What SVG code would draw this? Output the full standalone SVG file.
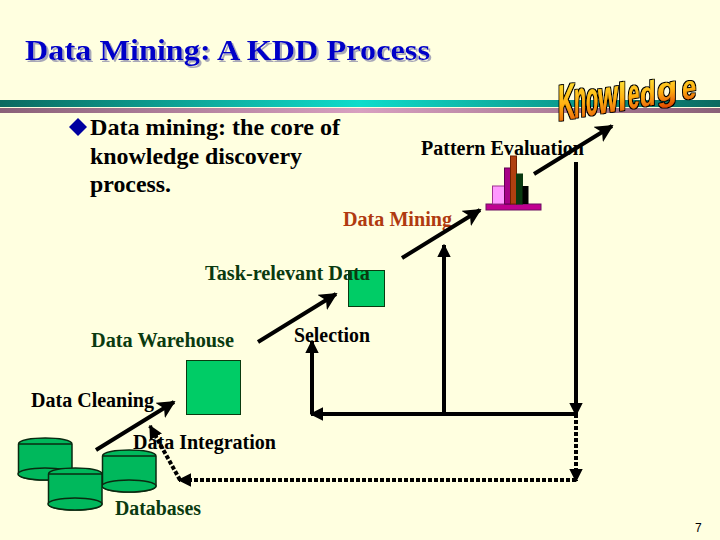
<svg xmlns="http://www.w3.org/2000/svg" width="720" height="540" viewBox="0 0 720 540">
<style>
text{font-family:"Liberation Serif","Times New Roman",serif;font-weight:bold}
.lb{font-size:20px}
.bt{font-size:24px;fill:#000}
.g{fill:#0A3A10}
.k{fill:#000}
.sq{fill:#00CC66;stroke:#0A3A10;stroke-width:1}
.cy{fill:#00B85C;stroke:#0A2A10;stroke-width:1.5}
.cl{fill:none;stroke:#000;stroke-width:4}
.cd{fill:none;stroke:#000;stroke-width:4;stroke-dasharray:4 2}
#knowledge text{font-family:"Liberation Sans",Arial,sans-serif;font-size:30px;fill:url(#kg)}
</style>
<defs>
<linearGradient id="r1" x1="0" x2="1" y1="0" y2="0"><stop offset="0" stop-color="#0B6A60"/><stop offset=".5" stop-color="#10DCCB"/><stop offset="1" stop-color="#0B6A60"/></linearGradient>
<linearGradient id="r2" x1="0" x2="1" y1="0" y2="0"><stop offset="0" stop-color="#8A6078"/><stop offset=".5" stop-color="#D8A0C0"/><stop offset="1" stop-color="#8A6078"/></linearGradient>
<linearGradient id="kg" x1="0" x2="0" y1="0" y2="1"><stop offset="0" stop-color="#FFF040"/><stop offset=".55" stop-color="#FFB010"/><stop offset="1" stop-color="#E04800"/></linearGradient>
<filter id="sh" x="-5%" y="-20%" width="110%" height="140%"><feDropShadow dx="2" dy="2" stdDeviation=".4" flood-color="#A8A8B8"/></filter>
<filter id="ko" x="-5%" y="-10%" width="110%" height="120%"><feMorphology in="SourceGraphic" operator="dilate" radius=".4" result="fat"/><feMorphology in="SourceAlpha" operator="dilate" radius="1.1" result="o"/><feMerge><feMergeNode in="o"/><feMergeNode in="fat"/></feMerge></filter>
<marker id="a" viewBox="0 0 10 10" refX="9" refY="5" markerWidth="4.500" markerHeight="4.500" orient="auto"><path d="M0 0L10 5L0 10L2.500 5Z" fill="#000"/></marker>
<marker id="b" viewBox="0 0 10 10" refX="9" refY="5" markerWidth="3.400" markerHeight="3.400" orient="auto"><path d="M0 0L10 5L0 10Z" fill="#000"/></marker>
</defs>
<rect width="720" height="540" fill="#FFFFE0"/>
<g id="rules"><rect x="0" y="100" width="720" height="7" fill="url(#r1)"/><rect x="0" y="108" width="720" height="5" fill="url(#r2)"/></g>
<text id="title" x="25" y="60" font-size="30" fill="#0000C8" filter="url(#sh)" textLength="405" lengthAdjust="spacingAndGlyphs">Data Mining: A KDD Process</text>
<g id="knowledge" filter="url(#ko)">
<text transform="matrix(.8 -.132 0 1.7 558 121)">K</text>
<text transform="matrix(.66 -.109 0 1.75 574 118)">n</text>
<text transform="matrix(.66 -.109 0 1.6 586 116)">o</text>
<text transform="matrix(.86 -.142 0 1.55 598 114)">w</text>
<text transform="matrix(1 -.165 0 1.3 618 111)">l</text>
<text transform="matrix(.68 -.112 0 1.4 628 109)">e</text>
<text transform="matrix(.85 -.14 0 1.15 640 107)">d</text>
<text transform="matrix(1.1 -.182 0 1.1 657 102)">g</text>
<text transform="matrix(.85 -.14 0 1.1 682 100)">e</text>
</g>
<g id="bullet">
<polygon points="69,127 78,118 87,127 78,136" fill="#0000A0"/>
<text class="bt" x="90" y="135" textLength="250" lengthAdjust="spacingAndGlyphs">Data mining: the core of</text>
<text class="bt" x="90" y="164" textLength="212" lengthAdjust="spacingAndGlyphs">knowledge discovery</text>
<text class="bt" x="90" y="192" textLength="81" lengthAdjust="spacingAndGlyphs">process.</text>
</g>
<g id="pattern-evaluation"><text class="lb k" x="421" y="155" textLength="163" lengthAdjust="spacingAndGlyphs">Pattern Evaluation</text>
<rect x="486" y="204" width="55" height="6" fill="#C00090" stroke="#6A1060"/>
<rect x="492.500" y="186" width="12" height="18" fill="#FF99FF" stroke="#A03090"/>
<rect x="504.500" y="168" width="6" height="36" fill="#A80088" stroke="#600050"/>
<rect x="510.500" y="156" width="6" height="48" fill="#B04010" stroke="#702000"/>
<rect x="516.500" y="174" width="6" height="30" fill="#0A3A10" stroke="#0A3A10"/>
<rect x="522.500" y="186" width="6" height="18" fill="#000"/>
</g>
<g id="data-mining"><text class="lb" fill="#B03A10" x="343" y="226" textLength="109" lengthAdjust="spacingAndGlyphs">Data Mining</text></g>
<g id="task-relevant-data"><rect class="sq" x="348.500" y="270.500" width="36" height="36"/><text class="lb g" x="205" y="280" textLength="165" lengthAdjust="spacingAndGlyphs">Task-relevant Data</text></g>
<g id="selection"><text class="lb k" x="294" y="342" textLength="76" lengthAdjust="spacingAndGlyphs">Selection</text></g>
<g id="data-warehouse"><rect class="sq" x="186.500" y="360.500" width="54" height="54"/><text class="lb g" x="91" y="347" textLength="143" lengthAdjust="spacingAndGlyphs">Data Warehouse</text></g>
<g id="data-cleaning"><text class="lb k" x="31" y="407" textLength="123" lengthAdjust="spacingAndGlyphs">Data Cleaning</text></g>
<g id="databases">
<g class="cy"><path d="M18.500 444C18.500 436 72 436 72 444V474C72 482 18.500 482 18.500 474Z"/><path d="M18.500 444H72"/><ellipse cx="45" cy="474" rx="27" ry="6"/></g>
<g class="cy"><path d="M102.500 456C102.500 448 156 448 156 456V486C156 494 102.500 494 102.500 486Z"/><path d="M102.500 456H156"/><ellipse cx="129" cy="486" rx="27" ry="6"/></g>
<g class="cy"><path d="M48.500 474C48.500 466 102 466 102 474V504C102 512 48.500 512 48.500 504Z"/><path d="M48.500 474H102"/><ellipse cx="75" cy="504" rx="27" ry="6"/></g>
<text class="lb g" x="115" y="515" textLength="86" lengthAdjust="spacingAndGlyphs">Databases</text>
</g>
<g id="data-integration"><text class="lb k" x="133" y="449" textLength="143" lengthAdjust="spacingAndGlyphs">Data Integration</text></g>
<g id="connectors">
<path class="cl" marker-end="url(#a)" d="M534 174L612 126"/>
<path class="cl" marker-end="url(#a)" d="M402 258L480 210"/>
<path class="cl" marker-end="url(#a)" d="M258 342L336 294"/>
<path class="cl" marker-end="url(#a)" d="M96 450L174 402"/>
<path class="cl" marker-end="url(#b)" d="M576 162V415"/>
<path class="cl" marker-end="url(#b)" d="M576 414H311"/>
<path class="cl" marker-end="url(#b)" d="M312 414V341"/>
<path class="cl" marker-end="url(#b)" d="M444 414V245"/>
<path class="cd" marker-end="url(#b)" d="M576 414V481"/>
<path class="cd" marker-end="url(#b)" d="M576 480H179"/>
<path class="cd" marker-end="url(#b)" d="M180 480L150 426"/>
</g>
<text id="page" x="695" y="532" font-size="12" style="font-family:'Liberation Sans',Arial,sans-serif;font-weight:normal" fill="#000">7</text>
</svg>
